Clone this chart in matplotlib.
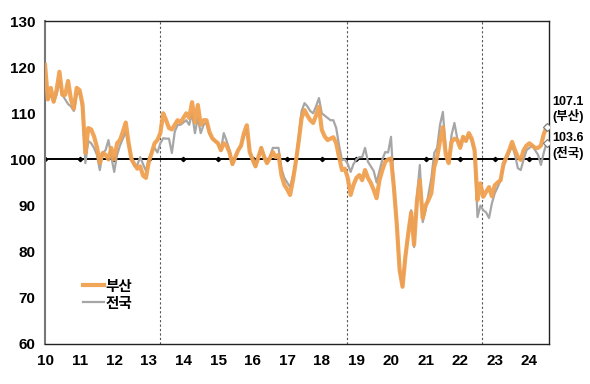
import matplotlib
matplotlib.use("Agg")
import matplotlib.pyplot as plt
import numpy as np

plt.rcParams['font.family'] = ['Liberation Sans', 'Noto Sans CJK KR']
plt.rcParams['font.weight'] = 'bold'

# monthly index, Jan 2010 .. Jul 2024
busan = [
    120.5, 113, 115.5, 112.5, 115, 119, 114, 114, 117, 113, 111, 115.5,      # 2010
    115, 112, 101.4, 106.8, 106.5, 105, 102.7, 99.2, 101.4, 101, 100, 102.5,  # 2011
    100, 103.5, 104.2, 106, 108, 103.5, 100, 99, 98, 98.5, 96.5, 96,          # 2012
    99.5, 101.4, 103.5, 104.2, 105.7, 110, 108.5, 106.8, 106.5, 107.5, 108.5, 108,  # 2013
    109, 110, 109, 112.4, 108, 111.8, 107.5, 108.5, 108.5, 106, 104.6, 104,   # 2014
    103.5, 102, 103.5, 103, 101.5, 99, 100.5, 102, 103, 105.7, 107.4, 101.6,  # 2015
    100, 98.5, 100.5, 102.5, 100.5, 99.2, 100.3, 101.6, 100.5, 101, 96.6, 94.5,  # 2016
    93.5, 92.3, 95.5, 99.5, 104, 109, 110.7, 109.5, 108.5, 107.9, 109.5, 111.4,  # 2017
    106.4, 105, 104.2, 104.5, 104.8, 103.5, 100.5, 97.7, 98, 96, 92.3, 94.5,  # 2018
    96, 96.6, 95.5, 97.7, 96, 94.9, 93.4, 91.6, 95.5, 97.7, 99.5, 100,        # 2019
    100.2, 94, 86, 76, 72.4, 79, 84, 88.5, 81.5, 91, 95.5, 87.3,              # 2020
    90, 91.2, 92.7, 98.4, 100.5, 104, 107, 101, 99.2, 103.8, 104.5, 104.2,    # 2021
    102.5, 104.9, 104, 105.7, 104.5, 102, 91.2, 94.8, 91.9, 93, 94, 92,       # 2022
    94.4, 95, 95.5, 99, 100.5, 102, 103.8, 102, 100.5, 99.9, 102, 103,        # 2023
    103.5, 103, 102.5, 102.5, 103, 105.5, 107.1,                              # 2024
]
nation = [
    118, 113, 114, 112.5, 114, 117, 114, 113, 112, 111.5, 110.5, 114,         # 2010
    114.5, 111, 99.2, 104, 103.5, 102.5, 101, 97.7, 101.4, 102, 104.2, 100.5,  # 2011
    97.3, 101, 103, 104.5, 106, 103, 100, 98.5, 98.8, 100.5, 99, 97.5,        # 2012
    100, 101.5, 102.5, 101.5, 103.5, 104.6, 104.5, 104.5, 101.4, 106, 107.5, 107.5,  # 2013
    108, 108.5, 107.5, 110, 105.7, 109, 105.7, 107.5, 108, 105.5, 104.5, 104,  # 2014
    103.5, 102, 105.7, 104, 102, 98.8, 100.5, 102, 103, 105, 106.5, 101.6,    # 2015
    100, 98.4, 100.5, 102.5, 101, 99.2, 100.5, 102.5, 102.5, 102.5, 98, 96,   # 2016
    95, 94, 96.5, 99.5, 105, 110.5, 112.2, 111.5, 110.5, 110, 111.5, 113.3,   # 2017
    110, 109.5, 109, 108.5, 108.5, 106.8, 103, 99.9, 100, 99, 97.3, 99,       # 2018
    100, 100.5, 100.5, 102.5, 99.5, 98.5, 97.5, 95, 97.5, 100, 101.6, 101.5,  # 2019
    104.9, 94, 86, 76, 72.4, 79, 84, 89, 81, 92, 98.8, 86.4,                  # 2020
    89, 92.5, 96, 101.4, 102.5, 107.5, 110.3, 102, 99.5, 105.3, 107.9, 104.5,  # 2021
    103, 104.9, 104, 105.3, 104, 101.5, 87.5, 90, 89, 88.5, 87.3, 90.5,       # 2022
    92.7, 94, 95.5, 98.5, 100, 101.5, 103, 101, 98.1, 97.7, 100, 102,         # 2023
    102.5, 103, 102, 101, 98.8, 101.5, 103.6,                                 # 2024
]
years = ['10', '11', '12', '13', '14', '15', '16', '17', '18', '19', '20', '21', '22', '23', '24']
events = [40, 104.7, 151.5]  # month index of dashed lines

m = np.arange(len(busan))
ticks = np.arange(len(years)) * 12

fig = plt.figure(figsize=(5.9, 3.84), dpi=100)
ax = fig.add_axes([0.0763, 0.1042, 0.8542, 0.8411])

ax.axhline(100, color='black', lw=1.4, zorder=2)
ax.plot(ticks, [100] * len(ticks), 'D', color='black', ms=2.2, zorder=2)
for e in events:
    ax.axvline(e, color='#555555', lw=0.8, ls=(0, (2, 2)), zorder=1)

ax.plot(m, nation, color='#A6A6A6', lw=1.6, label='전국', zorder=3)
ax.plot(m, busan, color='#F0A050', lw=3.0, label='부산', zorder=4, alpha=0.95)
ax.plot(m[-1], nation[-1], 'D', mfc='white', mec='#777777', ms=4, mew=0.8, zorder=5)
ax.plot(m[-1], busan[-1], 'D', mfc='white', mec='#777777', ms=4, mew=0.8, zorder=5)

ax.set_xlim(0, 174.8)
ax.set_ylim(60, 130)
ax.set_yticks(range(60, 131, 10))
ax.set_xticks(ticks)
ax.set_xticklabels(years)
ax.tick_params(length=0, labelsize=11, pad=7)
for lab in ax.get_xticklabels() + ax.get_yticklabels():
    lab.set_fontweight('bold')
for s in ax.spines.values():
    s.set_color('#222222')
    s.set_linewidth(1.0)
ax.spines['left'].set_color('#777777')
ax.spines['left'].set_linewidth(1.5)

ax.text(1.006, (busan[-1] - 60) / 70 + 0.053, '%.1f\n(부산)' % busan[-1], transform=ax.transAxes,
        fontsize=9, fontweight='bold', va='center', ha='left', linespacing=1.1)
ax.text(1.006, (nation[-1] - 60) / 70 - 0.01, '%.1f\n(전국)' % nation[-1], transform=ax.transAxes,
        fontsize=9, fontweight='bold', va='center', ha='left', linespacing=1.1)

h, l = ax.get_legend_handles_labels()
ax.legend(h[::-1], l[::-1], loc='upper left', bbox_to_anchor=(0.05, 0.24), frameon=False,
          handlelength=1.4, handletextpad=0.1, labelspacing=0.2, prop={'size': 10.5, 'weight': 'bold'})

fig.savefig('out.png', dpi=100)
